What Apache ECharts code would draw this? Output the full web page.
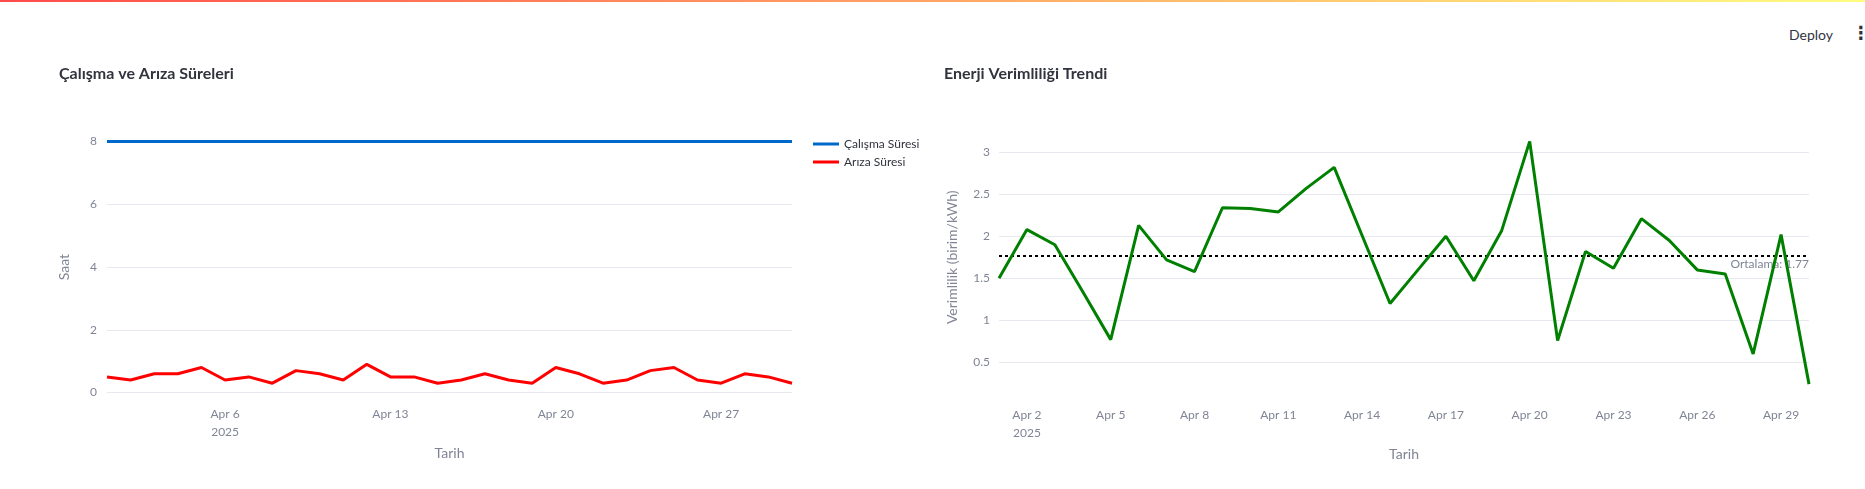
<!DOCTYPE html>
<html>
<head>
<meta charset="utf-8">
<title>Çalışma ve Enerji</title>
<script src="https://cdn.jsdelivr.net/npm/echarts@6/dist/echarts.min.js"></script>
<style>
  html, body { margin: 0; padding: 0; background: #fff; }
  #topbar { position: absolute; left: 0; top: 0; width: 100%; height: 2px;
    background: linear-gradient(90deg, #ff4b4b, #fffd80); }
  #deploy { position: absolute; left: 1789px; top: 26px; font: 14px Lato, sans-serif; color: #31333f; }
  #menu { position: absolute; left: 1852px; top: 22px; font: bold 18px "DejaVu Sans", sans-serif; color: #31333f; }
  #chart { width: 1865px; height: 489px; }
</style>
</head>
<body>
<div id="topbar"></div>
<div id="deploy">Deploy</div>
<div id="menu">⋮</div>
<div id="chart"></div>
<script>
// günler (Nisan 2025)
const dates = [
  '2025-04-01', '2025-04-02', '2025-04-03', '2025-04-04', '2025-04-05',
  '2025-04-06', '2025-04-07', '2025-04-08', '2025-04-09', '2025-04-10',
  '2025-04-11', '2025-04-12', '2025-04-13', '2025-04-14', '2025-04-15',
  '2025-04-16', '2025-04-17', '2025-04-18', '2025-04-19', '2025-04-20',
  '2025-04-21', '2025-04-22', '2025-04-23', '2025-04-24', '2025-04-25',
  '2025-04-26', '2025-04-27', '2025-04-28', '2025-04-29', '2025-04-30'
];

const calismaSuresi = [
  8, 8, 8, 8, 8, 8, 8, 8, 8, 8,
  8, 8, 8, 8, 8, 8, 8, 8, 8, 8,
  8, 8, 8, 8, 8, 8, 8, 8, 8, 8
];
const arizaSuresi = [
  0.5, 0.4, 0.6, 0.6, 0.8, 0.4, 0.5, 0.3, 0.7, 0.6,
  0.4, 0.9, 0.5, 0.5, 0.3, 0.4, 0.6, 0.4, 0.3, 0.8,
  0.6, 0.3, 0.4, 0.7, 0.8, 0.4, 0.3, 0.6, 0.5, 0.3
];
const verimlilik = [
  1.5, 2.08, 1.9, 1.34, 0.77, 2.13, 1.72, 1.58, 2.34, 2.33,
  2.29, 2.57, 2.82, 2.01, 1.2, 1.6, 2.0, 1.47, 2.07, 3.13,
  0.76, 1.82, 1.62, 2.21, 1.95, 1.6, 1.55, 0.6, 2.02, 0.24
];
const ortalama = 1.77;

const leftTicks = ['2025-04-06', '2025-04-13', '2025-04-20', '2025-04-27'];
const rightTicks = ['2025-04-02', '2025-04-05', '2025-04-08', '2025-04-11', '2025-04-14',
  '2025-04-17', '2025-04-20', '2025-04-23', '2025-04-26', '2025-04-29'];

const FONT = 'Lato, "Noto Sans", sans-serif';
const GRAY = '#808495';
const GRID_LINE = '#e6e9ef';

function dateLabel(ticks) {
  return (val) => {
    const d = new Date(val + 'T00:00:00');
    const s = 'Apr ' + d.getDate();
    return val === ticks[0] ? s + '\n2025' : s;
  };
}

function xAxisFor(gridIndex, ticks, margin, gap) {
  return {
    type: 'category',
    gridIndex,
    data: dates,
    boundaryGap: false,
    axisLine: { show: false },
    axisTick: { show: false },
    splitLine: { show: false },
    axisLabel: {
      interval: (idx, val) => ticks.includes(val),
      formatter: dateLabel(ticks),
      color: GRAY, fontSize: 12, fontFamily: FONT,
      lineHeight: 18, margin
    },
    name: 'Tarih',
    nameLocation: 'middle',
    nameGap: gap,
    nameTextStyle: { color: GRAY, fontSize: 14, fontFamily: FONT }
  };
}

const chart = echarts.init(document.getElementById('chart'));
chart.setOption({
  animation: false,
  textStyle: { fontFamily: FONT },
  title: [
    {
      text: 'Çalışma ve Arıza Süreleri', left: 54, top: 61,
      textStyle: { fontSize: 16, fontWeight: 'bold', color: '#31333f', fontFamily: FONT }
    },
    {
      text: 'Enerji Verimliliği Trendi', left: 939, top: 61,
      textStyle: { fontSize: 16, fontWeight: 'bold', color: '#31333f', fontFamily: FONT }
    }
  ],
  legend: {
    data: ['Çalışma Süresi', 'Arıza Süresi'],
    orient: 'vertical',
    left: 808, top: 133,
    icon: 'rect', itemWidth: 26, itemHeight: 3, itemGap: 6,
    textStyle: { fontSize: 12, color: '#31333f', fontFamily: FONT }
  },
  grid: [
    { left: 107, right: 1073, top: 141.6, bottom: 96.4 },
    { left: 999, right: 56, top: 110.3, bottom: 84.7 }
  ],
  xAxis: [
    xAxisFor(0, leftTicks, 13, 53),
    xAxisFor(1, rightTicks, 2, 42)
  ],
  yAxis: [
    {
      type: 'value', gridIndex: 0, min: 0, max: 8, interval: 2,
      axisLine: { show: false }, axisTick: { show: false },
      splitLine: { lineStyle: { color: GRID_LINE } },
      axisLabel: { color: GRAY, fontSize: 12, fontFamily: FONT, margin: 10 },
      name: 'Saat', nameLocation: 'middle', nameGap: 36,
      nameTextStyle: { color: GRAY, fontSize: 14, fontFamily: FONT }
    },
    {
      type: 'value', gridIndex: 1, min: 0, max: 3.5, interval: 0.5,
      axisLine: { show: false }, axisTick: { show: false },
      splitLine: { showMinLine: false, showMaxLine: false, lineStyle: { color: GRID_LINE } },
      axisLabel: { color: GRAY, fontSize: 12, fontFamily: FONT, margin: 9,
        showMinLabel: false, showMaxLabel: false },
      name: 'Verimlilik (birim/kWh)', nameLocation: 'middle', nameGap: 40,
      nameTextStyle: { color: GRAY, fontSize: 14, fontFamily: FONT }
    }
  ],
  series: [
    {
      name: 'Çalışma Süresi', type: 'line', xAxisIndex: 0, yAxisIndex: 0,
      data: calismaSuresi, showSymbol: false, clip: false,
      lineStyle: { color: '#0068c9', width: 3 }, itemStyle: { color: '#0068c9' }
    },
    {
      name: 'Arıza Süresi', type: 'line', xAxisIndex: 0, yAxisIndex: 0,
      data: arizaSuresi, showSymbol: false,
      lineStyle: { color: '#ff0000', width: 3 }, itemStyle: { color: '#ff0000' }
    },
    {
      name: 'Verimlilik', type: 'line', xAxisIndex: 1, yAxisIndex: 1,
      data: verimlilik, showSymbol: false, clip: false,
      lineStyle: { color: '#008000', width: 3 }, itemStyle: { color: '#008000' },
      z: 3,
      markLine: {
        silent: true, symbol: 'none', z: 2,
        lineStyle: { color: '#000', width: 2, type: [3, 3] },
        label: {
          position: 'insideEndBottom', distance: [0, 3],
          formatter: 'Ortalama: ' + ortalama.toFixed(2),
          color: GRAY, fontSize: 12, fontFamily: FONT
        },
        data: [{ yAxis: ortalama }]
      }
    }
  ]
});
</script>
</body>
</html>
